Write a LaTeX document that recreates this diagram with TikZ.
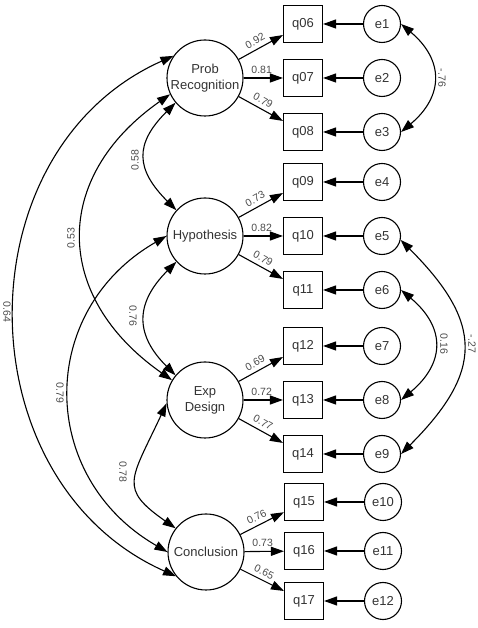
\documentclass[tikz,border=0pt]{standalone}
\usepackage{fontspec}
\setmainfont{Liberation Sans}
\usetikzlibrary{arrows.meta}
\begin{document}
\begin{tikzpicture}[x=1pt,y=1pt,
  line width=1.1pt,
  >={Triangle[length=13pt,width=9pt]},
  latent/.style={circle,draw,minimum size=76pt,inner sep=0pt,align=center,font=\fontsize{13}{16}\selectfont,text=black!80},
  obs/.style={rectangle,draw,minimum width=39pt,minimum height=37pt,inner sep=0pt,font=\fontsize{13}{14}\selectfont,text=black!80},
  err/.style={circle,draw,minimum size=37pt,inner sep=0pt,font=\fontsize{13}{14}\selectfont,text=black!80},
  lab/.style={font=\fontsize{10.5}{10.5}\selectfont,text=black!70,inner sep=1pt},
  load/.style={lab,sloped,above=3pt,pos=0.46},
]
\useasboundingbox (0,0) rectangle (478,628);
% latent
\node[latent] (prob) at (205,550) {Prob\\Recognition};
\node[latent] (hyp) at (205,392) {Hypothesis};
\node[latent] (exp) at (205,228) {Exp\\Design};
\node[latent] (conc) at (206,76) {Conclusion};
% observed
\node[obs] (q06) at (303,604) {q06};
\node[obs] (q07) at (303,550) {q07};
\node[obs] (q08) at (303,496) {q08};
\node[obs] (q09) at (303,446) {q09};
\node[obs] (q10) at (303,392) {q10};
\node[obs] (q11) at (303,338) {q11};
\node[obs] (q12) at (303,282) {q12};
\node[obs] (q13) at (303,228) {q13};
\node[obs] (q14) at (303,174) {q14};
\node[obs] (q15) at (304,126) {q15};
\node[obs] (q16) at (304,77) {q16};
\node[obs] (q17) at (304,27) {q17};
% errors
\node[err] (e1) at (382,604) {e1};
\node[err] (e2) at (382,550) {e2};
\node[err] (e3) at (382,496) {e3};
\node[err] (e4) at (382,446) {e4};
\node[err] (e5) at (382,392) {e5};
\node[err] (e6) at (382,338) {e6};
\node[err] (e7) at (382,282) {e7};
\node[err] (e8) at (382,228) {e8};
\node[err] (e9) at (382,174) {e9};
\node[err] (e10) at (383,126) {e10};
\node[err] (e11) at (383,77) {e11};
\node[err] (e12) at (383,27) {e12};
% loadings
\draw[->] (prob) -- node[load] (l1) {0.92} (q06);
\draw[->] (prob) -- node[load] (l2) {0.81} (q07);
\draw[->] (prob) -- node[load] (l3) {0.79} (q08);
\draw[->] (hyp) -- node[load] (l4) {0.73} (q09);
\draw[->] (hyp) -- node[load] (l5) {0.82} (q10);
\draw[->] (hyp) -- node[load] (l6) {0.79} (q11);
\draw[->] (exp) -- node[load] (l7) {0.69} (q12);
\draw[->] (exp) -- node[load] (l8) {0.72} (q13);
\draw[->] (exp) -- node[load] (l9) {0.77} (q14);
\draw[->] (conc) -- node[load] (l10) {0.76} (q15);
\draw[->] (conc) -- node[load] (l11) {0.73} (q16);
\draw[->] (conc) -- node[load] (l12) {0.65} (q17);
% error arrows
\foreach \e/\q in {e1/q06,e2/q07,e3/q08,e4/q09,e5/q10,e6/q11,e7/q12,e8/q13,e9/q14,e10/q15,e11/q16,e12/q17}
  \draw[->] (\e) -- (\q);
% error covariances
\draw[<->] (e1.east) .. controls +(-40:56) and +(40:56) .. (e3.east);
\draw[<->] (e6.east) .. controls +(-40:58) and +(40:58) .. (e8.east);
\draw[<->] (e5.-12) .. controls +(-45:117) and +(45:117) .. (e9.east);
\node[lab,rotate=-90] (c1) at (442,550) {-.76};
\node[lab,rotate=-90] (c2) at (444,284) {0.16};
\node[lab,rotate=-90] (c3) at (472,284) {-.27};
% latent covariances
\draw[<->] (prob.220) .. controls +(225:58) and +(135:58) .. (hyp.138);
\draw[<->] (hyp.222) .. controls +(225:58) and +(135:58) .. (exp.140);
\draw[<->] (exp.185) .. controls +(245:85) and +(145:70) .. (conc.142);
\draw[<->] (prob.205) .. controls +(215:145) and +(145:145) .. (exp.149);
\draw[<->] (hyp.west) .. controls +(210:150) and +(150:150) .. (conc.west);
\draw[<->] (prob.145) .. controls +(204:233) and +(156:233) .. (conc.219);
\node[lab,rotate=90] (k1) at (135,468) {0.58};
\node[lab,rotate=90] (k2) at (71,390) {0.53};
\node[lab,rotate=-90] (k3) at (7,316) {0.64};
\node[lab,rotate=-90] (k4) at (133,312) {0.76};
\node[lab,rotate=-90] (k5) at (60,235) {0.79};
\node[lab,rotate=-90] (k6) at (123,156) {0.78};
\end{tikzpicture}
\end{document}
